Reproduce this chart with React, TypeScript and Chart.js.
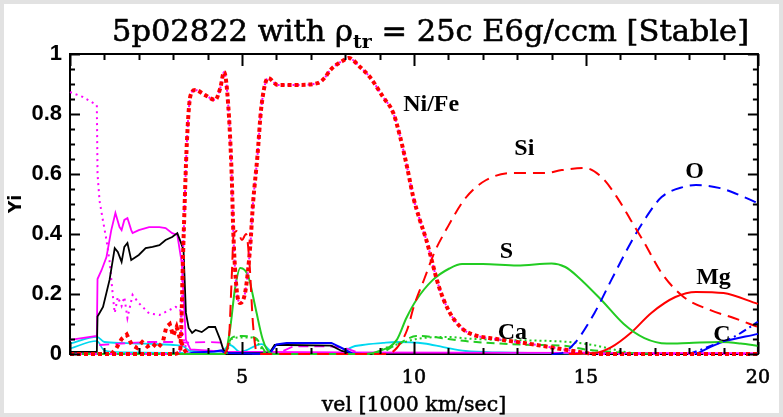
import React, { useEffect, useRef } from "react";
import { Chart, registerables } from "chart.js";

Chart.register(...registerables);

type Pt = [number, number];

// ---------- text ----------
const TITLE_BEFORE = "5p02822 with ";
const TITLE_SYMBOL = "ρ";
const TITLE_SUB = "tr";
const TITLE_AFTER = " = 25c E6g/ccm [Stable]";
const X_TITLE = "vel [1000 km/sec]";
const Y_TITLE = "Yi";

// ---------- ticks ----------
const X_TICKS = [5, 10, 15, 20];
const Y_TICKS = [0, 0.2, 0.4, 0.6, 0.8, 1];

// ---------- curve labels ----------
const CURVE_LABELS = ["Ni/Fe", "Si", "O", "S", "Mg", "Ca", "C"];
const LABEL_X = [10.5, 13.21, 18.16, 12.69, 18.71, 12.86, 18.95];
const LABEL_Y = [0.83, 0.683, 0.607, 0.34, 0.253, 0.07, 0.063];

// ---------- series (velocity, abundance) ----------
const niFe: Pt[] = [
  [0, 0], [1, 0], [2, 0], [3, 0], [3.2, 0.01], [3.3, 0.38], [3.4, 0.71], [3.5, 0.86],
  [3.64, 0.88], [3.93, 0.863], [4.22, 0.847], [4.37, 0.887], [4.48, 0.94], [4.6, 0.83],
  [4.7, 0.6], [4.75, 0.4], [4.84, 0.22], [4.95, 0.17], [5.1, 0.21], [5.24, 0.36],
  [5.32, 0.5], [5.45, 0.66], [5.56, 0.82], [5.76, 0.92], [6.04, 0.897], [6.62, 0.897],
  [7.2, 0.903], [7.4, 0.92], [7.57, 0.947], [7.97, 0.98], [8.1, 0.987], [8.43, 0.957],
  [8.72, 0.923], [9.1, 0.857], [9.4, 0.803], [9.6, 0.723], [9.8, 0.623], [9.98, 0.523],
  [10.17, 0.447], [10.36, 0.38], [10.73, 0.223], [11.03, 0.14], [11.4, 0.085],
  [11.7, 0.065], [12.4, 0.05], [13.3, 0.035], [14.1, 0.02], [14.8, 0.007], [15.3, 0], [20, 0],
];

const feNoise: Pt[] = [
  [1.2, 0], [1.35, 0.02], [1.5, 0.05], [1.65, 0.065], [1.8, 0.03], [1.95, 0.02], [2.1, 0.04],
  [2.25, 0.025], [2.4, 0.035], [2.55, 0.02], [2.7, 0.04], [2.8, 0.09], [2.9, 0.1],
  [3.0, 0.06], [3.1, 0.09], [3.2, 0.05], [3.3, 0.02], [3.4, 0],
];

const si: Pt[] = [
  [4.5, 0], [4.62, 0.05], [4.7, 0.25], [4.76, 0.4], [4.86, 0.41], [5.0, 0.38], [5.12, 0.4],
  [5.22, 0.3], [5.32, 0.1], [5.42, 0.01], [5.6, 0], [9.2, 0], [9.5, 0.02], [9.8, 0.08],
  [10.0, 0.16], [10.3, 0.25], [10.6, 0.34], [10.93, 0.413], [11.5, 0.52], [12.1, 0.58],
  [12.86, 0.603], [13.8, 0.603], [14.3, 0.613], [14.96, 0.62], [15.45, 0.59], [15.9, 0.523],
  [16.3, 0.447], [16.7, 0.37], [17.2, 0.27], [17.84, 0.19], [18.6, 0.147], [19.3, 0.12], [20, 0.09],
];

const oxy: Pt[] = [
  [14.0, 0], [14.3, 0.003], [14.68, 0.037], [15.25, 0.137], [15.74, 0.247], [16.3, 0.37],
  [16.7, 0.447], [17.2, 0.523], [17.84, 0.557], [18.2, 0.563], [18.9, 0.553], [19.6, 0.523], [20, 0.503],
];

const sul: Pt[] = [
  [0, 0], [4.5, 0], [4.65, 0.08], [4.8, 0.22], [4.95, 0.287], [5.18, 0.26], [5.4, 0.15],
  [5.6, 0.05], [5.8, 0.005], [6, 0], [8.6, 0], [9.0, 0.01], [9.5, 0.047], [9.78, 0.12],
  [10.07, 0.18], [10.55, 0.247], [11.03, 0.285], [11.4, 0.3], [12.0, 0.3], [13.0, 0.295],
  [14.0, 0.302], [14.4, 0.29], [14.77, 0.257], [15.45, 0.18], [16.1, 0.1], [16.7, 0.053],
  [17.35, 0.035], [18.0, 0.037], [18.9, 0.04], [19.5, 0.035], [20, 0.027],
];

const mg: Pt[] = [
  [14.5, 0], [15.25, 0.003], [15.74, 0.023], [16.3, 0.07], [16.9, 0.137], [17.6, 0.19],
  [18.2, 0.207], [19.0, 0.203], [20, 0.167],
];

const carbon: Pt[] = [[18.0, 0], [18.7, 0.03], [19.3, 0.057], [20, 0.107]];

const blueHigh: Pt[] = [[18.2, 0], [18.9, 0.037], [20, 0.067]];

const blueLow: Pt[] = [
  [3.4, 0], [3.6, 0.005], [4.2, 0.008], [4.4, 0.012], [4.5, 0.003], [5.8, 0], [6.0, 0.032],
  [6.3, 0.037], [7.6, 0.037], [7.9, 0.02], [8.2, 0.002], [8.5, 0],
];

const black: Pt[] = [
  [0, 0.007], [0.78, 0.007], [0.8, 0.125], [0.96, 0.157], [1.15, 0.247], [1.3, 0.353],
  [1.39, 0.34], [1.5, 0.307], [1.58, 0.357], [1.67, 0.37], [1.78, 0.313], [1.87, 0.32],
  [2.0, 0.33], [2.2, 0.353], [2.4, 0.357], [2.6, 0.363], [2.78, 0.38], [2.97, 0.39],
  [3.12, 0.403], [3.22, 0.373], [3.3, 0.347], [3.37, 0.137], [3.45, 0.087], [3.55, 0.07],
  [3.65, 0.08], [3.83, 0.073], [4.03, 0.09], [4.22, 0.09], [4.37, 0.047], [4.46, 0.013],
  [4.6, 0.003], [5.8, 0.003], [5.95, 0.03], [6.3, 0.03], [7.6, 0.028], [7.9, 0.01], [8.2, 0.002],
];

const magSolid: Pt[] = [
  [0, 0.047], [0.78, 0.06], [0.8, 0.25], [0.92, 0.28], [1.06, 0.323], [1.2, 0.413],
  [1.32, 0.47], [1.44, 0.423], [1.5, 0.413], [1.58, 0.447], [1.67, 0.453], [1.78, 0.413],
  [1.82, 0.403], [2.0, 0.413], [2.3, 0.423], [2.6, 0.423], [2.78, 0.42], [2.97, 0.403],
  [3.12, 0.397], [3.25, 0.303], [3.37, 0.047], [3.5, 0.015], [4.5, 0.008], [8.0, 0.005],
  [15.0, 0.004], [20, 0.003],
];

const magDotted: Pt[] = [
  [0, 0.873], [0.37, 0.857], [0.78, 0.83], [0.8, 0.6], [0.86, 0.51], [0.95, 0.45],
  [1.06, 0.38], [1.15, 0.31], [1.2, 0.25], [1.25, 0.19], [1.3, 0.137], [1.39, 0.19],
  [1.5, 0.16], [1.58, 0.19], [1.67, 0.12], [1.82, 0.197], [2.0, 0.17], [2.3, 0.135],
  [2.6, 0.13], [2.9, 0.147], [3.07, 0.157], [3.2, 0.15], [3.3, 0.05], [3.4, 0.01], [3.5, 0],
];

const magDashed: Pt[] = [
  [0.85, 0.03], [1.5, 0.035], [2.2, 0.04], [3.0, 0.04], [3.4, 0.038], [4.0, 0.04],
  [4.4, 0.038], [4.5, 0.005], [6.0, 0], [6.5, 0.026], [7.6, 0.025], [8.0, 0.02], [8.3, 0.008], [8.6, 0],
];

const cyanA: Pt[] = [
  [0, 0.035], [0.78, 0.057], [1.0, 0.04], [1.5, 0.037], [2.0, 0.035], [2.5, 0.033],
  [3.0, 0.03], [3.3, 0.025], [3.5, 0.01], [4.4, 0.008], [4.65, 0.03], [4.95, 0.007],
  [5.57, 0.033], [5.9, 0.003], [6.0, 0], [8.0, 0], [8.06, 0.013], [8.5, 0.03], [9.1, 0.037],
  [9.5, 0.04], [10.3, 0.035], [10.85, 0.023], [11.5, 0.01], [12.5, 0.005], [14, 0.003], [15, 0],
];

const cyanB: Pt[] = [[0, 0.018], [0.78, 0.043], [1.0, 0.012], [1.6, 0.006], [3.3, 0.004]];

const caDashed: Pt[] = [
  [4.5, 0], [4.65, 0.045], [4.75, 0.057], [5.0, 0.06], [5.4, 0.053], [5.6, 0.02], [5.75, 0],
  [9.0, 0], [9.3, 0.02], [9.6, 0.037], [10.07, 0.06], [10.55, 0.057], [11.0, 0.05],
  [11.5, 0.043], [12.5, 0.035], [13.5, 0.03], [14.3, 0.028], [15, 0.015], [16, 0.005], [17, 0],
];

const caDotted: Pt[] = [
  [4.55, 0], [4.7, 0.05], [5.0, 0.055], [5.3, 0.055], [5.5, 0.03], [5.7, 0], [8.8, 0],
  [9.1, 0.017], [9.6, 0.035], [10.07, 0.05], [11.0, 0.057], [11.5, 0.052], [12.5, 0.047],
  [13.5, 0.045], [14.5, 0.04], [15.2, 0.03], [16.0, 0.01], [16.5, 0],
];

// ---------- colours ----------
const RED = "#ff0000";
const GREEN = "#22cc22";
const BLUE = "#0000ff";
const MAGENTA = "#ff00ff";
const CYAN = "#00d8f0";
const BLACK = "#000000";

function ds(label: string, pts: Pt[], color: string, width: number, dash: number[], smooth: boolean) {
  return {
    label,
    data: pts.map(([x, y]) => ({ x, y })),
    borderColor: color,
    backgroundColor: color,
    borderWidth: width,
    borderDash: dash,
    pointRadius: 0,
    fill: false,
    tension: 0,
    cubicInterpolationMode: smooth ? "monotone" : "default",
    clip: 6,
  };
}

function strokedText(ctx: CanvasRenderingContext2D, t: string, x: number, y: number, w: number) {
  ctx.fillText(t, x, y);
  if (w > 0) {
    ctx.lineWidth = w;
    ctx.strokeText(t, x, y);
  }
}

const framePlugin = {
  id: "frame",
  beforeDraw(chart: any) {
    const { ctx, width, height } = chart;
    ctx.save();
    ctx.fillStyle = "#ffffff";
    ctx.fillRect(0, 0, width, height);
    ctx.strokeStyle = "#e2e2e2";
    ctx.lineWidth = 4;
    ctx.strokeRect(2, 2, width - 4, height - 4);
    ctx.restore();
  },
  beforeDatasetsDraw(chart: any) {
    const { ctx, chartArea: a } = chart;
    ctx.save();
    ctx.strokeStyle = "#000";
    ctx.lineWidth = 2;
    ctx.strokeRect(a.left, a.top, a.right - a.left, a.bottom - a.top);
    ctx.restore();
  },
  afterDatasetsDraw(chart: any) {
    const { ctx, chartArea: a, scales } = chart;
    const xs = scales.x;
    const ys = scales.y;
    ctx.save();
    ctx.strokeStyle = "#000";
    ctx.lineWidth = 2;
    ctx.beginPath();
    for (let i = 0; i <= 20; i++) {
      const px = Math.round(xs.getPixelForValue(i)) + 0.5;
      const len = i % 5 === 0 ? 12 : 6;
      ctx.moveTo(px, a.bottom);
      ctx.lineTo(px, a.bottom - len);
      ctx.moveTo(px, a.top);
      ctx.lineTo(px, a.top + len);
    }
    for (let i = 0; i <= 20; i++) {
      const py = Math.round(ys.getPixelForValue(i * 0.05)) + 0.5;
      const len = i % 4 === 0 ? 10 : 5;
      ctx.moveTo(a.left, py);
      ctx.lineTo(a.left + len, py);
      ctx.moveTo(a.right, py);
      ctx.lineTo(a.right - len, py);
    }
    ctx.stroke();
    ctx.restore();
  },
  afterDraw(chart: any) {
    const { ctx, scales, chartArea: a } = chart;
    const xs = scales.x;
    const ys = scales.y;
    ctx.save();
    ctx.fillStyle = "#000";
    ctx.strokeStyle = "#000";
    ctx.lineJoin = "round";
    // title
    ctx.textBaseline = "alphabetic";
    ctx.textAlign = "left";
    const big = '30.5px "DejaVu Serif"';
    const sub = 'bold 19px "DejaVu Serif"';
    let x = 112;
    const base = 41;
    ctx.font = big;
    strokedText(ctx, TITLE_BEFORE, x, base, 0.6);
    x += ctx.measureText(TITLE_BEFORE).width;
    strokedText(ctx, TITLE_SYMBOL, x, base, 0.6);
    x += ctx.measureText(TITLE_SYMBOL).width;
    ctx.font = sub;
    strokedText(ctx, TITLE_SUB, x, base + 7, 0);
    x += ctx.measureText(TITLE_SUB).width;
    ctx.font = big;
    strokedText(ctx, TITLE_AFTER, x, base, 0.6);
    // x title
    ctx.textAlign = "center";
    ctx.font = '20.5px "DejaVu Serif"';
    strokedText(ctx, X_TITLE, (a.left + a.right) / 2, 411, 0.5);
    // y title
    ctx.save();
    ctx.translate(17, (a.top + a.bottom) / 2);
    ctx.rotate(-Math.PI / 2);
    ctx.textBaseline = "middle";
    ctx.font = 'bold 17px "DejaVu Sans"';
    ctx.fillText(Y_TITLE, 0, 0);
    ctx.restore();
    // curve labels
    ctx.font = 'bold 24px "Liberation Serif"';
    ctx.textAlign = "center";
    ctx.textBaseline = "middle";
    CURVE_LABELS.forEach((t, i) => {
      ctx.fillText(t, xs.getPixelForValue(LABEL_X[i]), ys.getPixelForValue(LABEL_Y[i]));
    });
    ctx.restore();
  },
};

export default function App() {
  const ref = useRef<HTMLCanvasElement | null>(null);
  useEffect(() => {
    if (!ref.current) return;
    const datasets: any[] = [
      ds("Ni/Fe", niFe, RED, 4, [4, 3], true),
      ds("Ni/Fe under", niFe, MAGENTA, 2, [2, 3], true),
      ds("Fe noise", feNoise, RED, 4, [4, 4], false),
      ds("Si", si, RED, 2, [12, 7], true),
      ds("O", oxy, BLUE, 2, [12, 7], true),
      ds("C", carbon, BLUE, 2, [8, 4, 2, 4], true),
      ds("S", sul, GREEN, 2, [], true),
      ds("Mg", mg, RED, 2, [], true),
      ds("Ca dashed", caDashed, GREEN, 2, [8, 5], true),
      ds("Ca dotted", caDotted, GREEN, 2, [2, 3], true),
      ds("blue high", blueHigh, BLUE, 2, [], true),
      ds("blue low", blueLow, BLUE, 2, [], false),
      ds("black", black, BLACK, 1.8, [], false),
      ds("magenta solid", magSolid, MAGENTA, 1.8, [], false),
      ds("magenta dotted", magDotted, MAGENTA, 2, [2, 4], false),
      ds("magenta dashed", magDashed, MAGENTA, 1.8, [10, 6], false),
      ds("cyan a", cyanA, CYAN, 1.8, [], true),
      ds("cyan b", cyanB, CYAN, 1.5, [], true),
    ];
    const chart = new Chart(ref.current, {
      type: "line",
      data: { datasets },
      options: {
        animation: false,
        responsive: false,
        parsing: false as any,
        layout: { padding: { left: 0, right: 18, top: 54, bottom: 0 } },
        plugins: { legend: { display: false }, tooltip: { enabled: false }, title: { display: false } },
        scales: {
          x: {
            type: "linear",
            min: 0,
            max: 20,
            grid: { display: false, drawTicks: false },
            border: { display: false },
            afterBuildTicks: (s: any) => {
              s.ticks = X_TICKS.map((v) => ({ value: v }));
            },
            afterFit: (s: any) => {
              s.height = 63;
            },
            ticks: {
              color: "#000",
              font: { family: "DejaVu Serif", size: 19 },
              textStrokeColor: "#000",
              textStrokeWidth: 0.6,
              padding: 13,
              maxRotation: 0,
              autoSkip: false,
              callback: (v: any) => String(v),
            },
            title: { display: false },
          },
          y: {
            type: "linear",
            min: 0,
            max: 1,
            grid: { display: false, drawTicks: false },
            border: { display: false },
            afterBuildTicks: (s: any) => {
              s.ticks = Y_TICKS.map((v) => ({ value: v }));
            },
            afterFit: (s: any) => {
              s.width = 70;
            },
            ticks: {
              color: "#000",
              font: { family: "Liberation Sans", size: 22, weight: "bold" },
              padding: 8,
              autoSkip: false,
              callback: (v: any) => (v === 0 ? "0" : v === 1 ? "1" : Number(v).toFixed(1)),
            },
            title: { display: false },
          },
        },
      },
      plugins: [framePlugin],
    } as any);
    return () => chart.destroy();
  }, []);
  return (
    <div style={{ position: "fixed", left: 0, top: 0, width: 783, height: 417 }}>
      <canvas ref={ref} width={783} height={417} style={{ width: 783, height: 417, display: "block" }} />
    </div>
  );
}
